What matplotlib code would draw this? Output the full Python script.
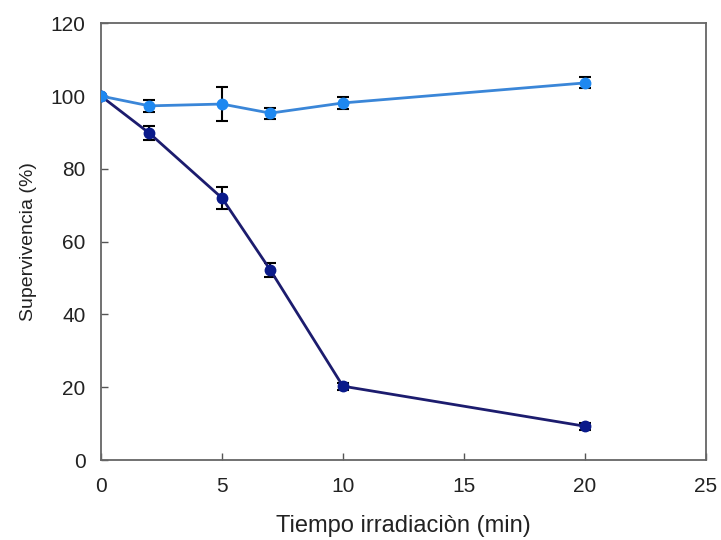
import matplotlib
matplotlib.use("Agg")
import matplotlib.pyplot as plt

plt.rcParams['font.family'] = ['Liberation Sans', 'DejaVu Sans']

time_min = [0, 2, 5, 7, 10, 20]
control = [100, 97.3, 97.8, 95.3, 98.1, 103.6]
control_err = [0, 1.6, 4.6, 1.5, 1.6, 1.5]
irradiated = [100, 89.8, 72.0, 52.2, 20.3, 9.3]
irradiated_err = [0, 2.0, 3.0, 1.8, 1.0, 1.0]

fig = plt.figure(figsize=(7.21, 5.4), dpi=100)
ax = fig.add_axes([0.140, 0.148, 0.839, 0.809])

ax.errorbar(time_min, irradiated, yerr=irradiated_err, color='#1c1c6e', lw=2,
            marker='o', ms=7.5, mfc='#0a1a8a', mec='#0a1a8a',
            ecolor='black', elinewidth=1.5, capsize=4, capthick=1.5, zorder=3)
ax.errorbar(time_min, control, yerr=control_err, color='#3a86d8', lw=2,
            marker='o', ms=7.5, mfc='#1e88f0', mec='#1e88f0',
            ecolor='black', elinewidth=1.5, capsize=4, capthick=1.5, zorder=4)

ax.set_xlim(0, 25)
ax.set_ylim(0, 120)
ax.set_xticks([0, 5, 10, 15, 20, 25])
ax.set_yticks([0, 20, 40, 60, 80, 100, 120])
ax.tick_params(direction='in', length=5, width=1, colors='#555555', labelcolor='#222222',
               labelsize=15)
ax.tick_params(axis='x', pad=12)
ax.tick_params(axis='y', pad=11)
for s in ax.spines.values():
    s.set_color('#666666')
    s.set_linewidth(1.3)
ax.set_xlabel('Tiempo irradiaciòn (min)', fontsize=17, color='#222222', labelpad=14)
ax.set_ylabel('Supervivencia (%)', fontsize=14, color='#222222', labelpad=10)

fig.savefig('out.png', dpi=100)
